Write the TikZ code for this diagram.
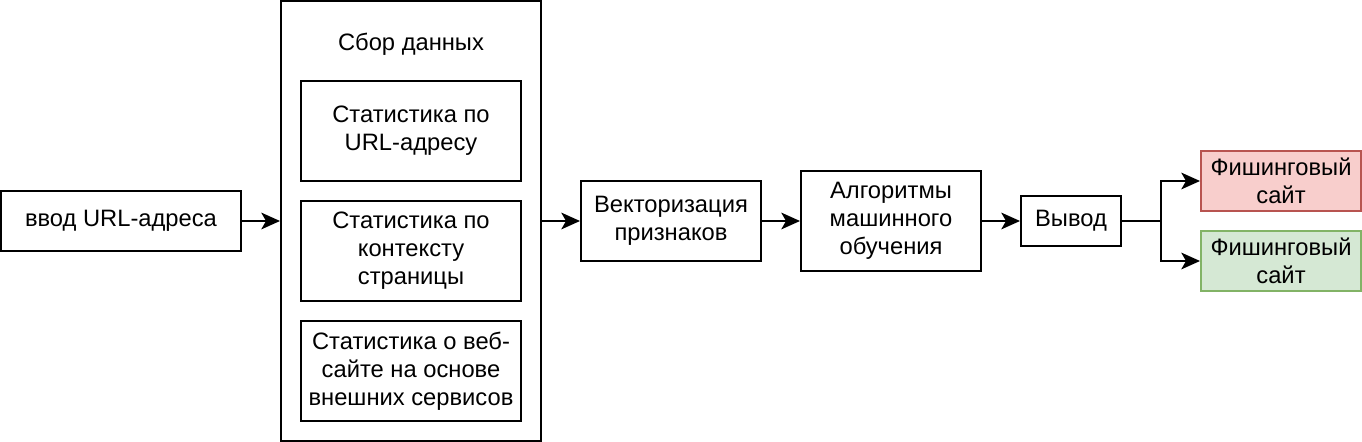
\documentclass[tikz,border=0pt]{standalone}
\usepackage{fontspec}
\setmainfont{Liberation Sans}
\usetikzlibrary{arrows.meta}
\definecolor{redfill}{HTML}{F8CECC}
\definecolor{redline}{HTML}{B85450}
\definecolor{greenfill}{HTML}{D5E8D4}
\definecolor{greenline}{HTML}{82B366}
\tikzset{
  boxstyle/.style={draw=black, line width=1.5pt, fill=white, align=center, inner sep=0pt,
    font=\fontsize{17.8}{21}\selectfont},
  arr/.style={line width=1.5pt, -{Stealth[length=14pt, width=12.5pt, inset=3.5pt]}},
  plain/.style={line width=1.5pt}
}
\begin{document}
\begin{tikzpicture}[x=0.75pt, y=-0.75pt]
\useasboundingbox (0,0) rectangle (1362,442);
\node[boxstyle, minimum width=180pt, minimum height=45pt] (in) at (121,221) {ввод URL-адреса};
\node[boxstyle, minimum width=195pt, minimum height=330pt] (cont) at (411,221) {};
\node[align=center, font=\fontsize{17.8}{21}\selectfont] (title) at (411,44) {Сбор данных};
\node[boxstyle, minimum width=165pt, minimum height=75pt] (b1) at (411,131) {Статистика по\\URL-адресу};
\node[boxstyle, minimum width=165pt, minimum height=75pt] (b2) at (411,251) {Статистика по\\контексту\\страницы};
\node[boxstyle, minimum width=165pt, minimum height=75pt] (b3) at (411,371) {Статистика о веб-\\сайте на основе\\внешних сервисов};
\node[boxstyle, minimum width=135pt, minimum height=60pt] (vec) at (671,221) {Векторизация\\признаков};
\node[boxstyle, minimum width=135pt, minimum height=75pt] (alg) at (891,221) {Алгоритмы\\машинного\\обучения};
\node[boxstyle, minimum width=75pt, minimum height=37.5pt] (out) at (1071,221) {Вывод};
\node[boxstyle, draw=redline, fill=redfill, minimum width=120pt, minimum height=45pt] (red) at (1281,181) {Фишинговый\\сайт};
\node[boxstyle, draw=greenline, fill=greenfill, minimum width=120pt, minimum height=45pt] (green) at (1281,261) {Фишинговый\\сайт};
\coordinate (br) at (1161,221);
\draw[arr] (in) -- (cont);
\draw[arr] (cont) -- (vec);
\draw[arr] (vec) -- (alg);
\draw[arr] (alg) -- (out);
\draw[plain] (out) -- (br);
\draw[arr] (br) |- (red);
\draw[arr] (br) |- (green);
\end{tikzpicture}
\end{document}
